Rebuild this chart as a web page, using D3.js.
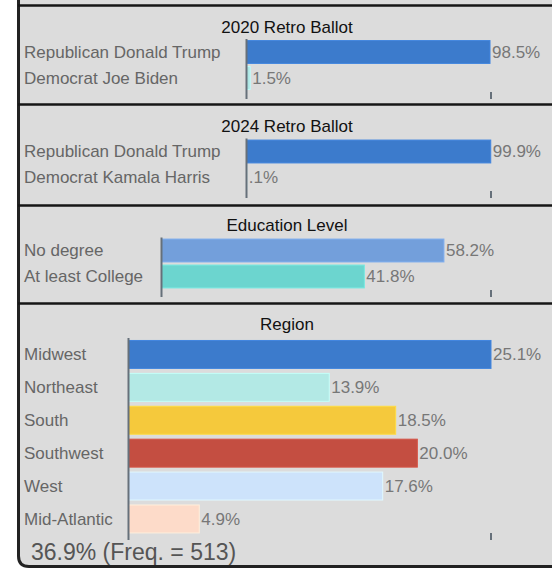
<!DOCTYPE html>
<html><head><meta charset="utf-8">
<script src="https://cdn.jsdelivr.net/npm/d3@7/dist/d3.min.js"></script>
<style>
html,body{margin:0;padding:0;background:#fff;}
svg{display:block;font-family:"Liberation Sans",Arial,sans-serif;}
</style></head>
<body>
<svg id="chart" width="552" height="570"></svg>
<script>
// ---- data ----
const panelTitles = ["2020 Retro Ballot", "2024 Retro Ballot", "Education Level", "Region"];
const ballot2020Cats = ["Republican Donald Trump", "Democrat Joe Biden"];
const ballot2020Vals = [98.5, 1.5];
const ballot2020Labels = ["98.5%", "1.5%"];
const ballot2024Cats = ["Republican Donald Trump", "Democrat Kamala Harris"];
const ballot2024Vals = [99.9, 0.1];
const ballot2024Labels = ["99.9%", ".1%"];
const educationCats = ["No degree", "At least College"];
const educationVals = [58.2, 41.8];
const educationLabels = ["58.2%", "41.8%"];
const regionCats = ["Midwest", "Northeast", "South", "Southwest", "West", "Mid-Atlantic"];
const regionVals = [25.1, 13.9, 18.5, 20.0, 17.6, 4.9];
const regionLabels = ["25.1%", "13.9%", "18.5%", "20.0%", "17.6%", "4.9%"];
const axisMax = [98.9, 100, 67.9, 25.1];
const footerText = "36.9% (Freq. = 513)";

// ---- styles / layout ----
const ballotColors = ["#3c7bcc", "#aee6e4"];
const eduColors = ["#739fdb", "#6cd5cf"];
const regionColors = ["#3c7bcc", "#b3e9e5", "#f5c93c", "#c44e41", "#cde3fb", "#fddbc9"];

const panels = [
  {title: panelTitles[0], cats: ballot2020Cats, vals: ballot2020Vals, labels: ballot2020Labels, max: axisMax[0], colors: ballotColors,
   top: 5, titleY: 33, axisX: 246.5, bandTop: 39, step: 26, pad: 0.12, axisBottom: 99},
  {title: panelTitles[1], cats: ballot2024Cats, vals: ballot2024Vals, labels: ballot2024Labels, max: axisMax[1], colors: ballotColors,
   top: 104, titleY: 132, axisX: 246.5, bandTop: 138.5, step: 26, pad: 0.12, axisBottom: 198},
  {title: panelTitles[2], cats: educationCats, vals: educationVals, labels: educationLabels, max: axisMax[2], colors: eduColors,
   top: 205, titleY: 231, axisX: 161.5, bandTop: 237.5, step: 26, pad: 0.12, axisBottom: 297},
  {title: panelTitles[3], cats: regionCats, vals: regionVals, labels: regionLabels, max: axisMax[3], colors: regionColors,
   top: 303, titleY: 330, axisX: 128.5, bandTop: 338, step: 32.9, pad: 0.15, axisBottom: 540}
];
const rightEnd = 491;

const svg = d3.select("#chart");

// background frame
svg.append("path")
  .attr("d", "M18.5,-5 L18.5,556 Q18.5,566.5 29,566.5 L600,566.5 L600,-5 Z")
  .attr("fill", "#dcdcdc")
  .attr("stroke", "#222")
  .attr("stroke-width", 3);

panels.forEach((p) => {
  const g = svg.append("g");
  g.append("line")
    .attr("x1", 18).attr("x2", 552)
    .attr("y1", p.top + 0.5).attr("y2", p.top + 0.5)
    .attr("stroke", "#161616").attr("stroke-width", 2.5);

  const x = d3.scaleLinear().domain([0, p.max]).range([p.axisX, rightEnd]);
  const y = d3.scaleBand().domain(p.cats)
    .range([p.bandTop, p.bandTop + p.step * p.cats.length])
    .paddingInner(p.pad).paddingOuter(p.pad / 2);

  g.append("text")
    .attr("x", 287).attr("y", p.titleY)
    .attr("text-anchor", "middle")
    .attr("font-size", 17).attr("fill", "#111")
    .text(p.title);

  g.selectAll("rect.bar").data(p.cats).join("rect")
    .attr("class", "bar")
    .attr("x", x(0))
    .attr("y", d => y(d))
    .attr("width", (d, i) => Math.max(0, x(p.vals[i]) - x(0)))
    .attr("height", y.bandwidth())
    .attr("fill", (d, i) => p.colors[i])
    .attr("stroke", (d, i) => d3.color(p.colors[i]).brighter(0.25))
    .attr("stroke-width", 1);

  g.selectAll("text.cat").data(p.cats).join("text")
    .attr("class", "cat")
    .attr("x", 24)
    .attr("y", d => y(d) + y.bandwidth() / 2)
    .attr("dy", "0.34em")
    .attr("font-size", 17).attr("fill", "#666")
    .text(d => d);

  g.selectAll("text.val").data(p.cats).join("text")
    .attr("class", "val")
    .attr("x", (d, i) => x(p.vals[i]) + 2)
    .attr("y", d => y(d) + y.bandwidth() / 2)
    .attr("dy", "0.34em")
    .attr("font-size", 17).attr("fill", "#777")
    .text((d, i) => p.labels[i]);

  g.append("line")
    .attr("x1", p.axisX).attr("x2", p.axisX)
    .attr("y1", p.bandTop).attr("y2", p.axisBottom)
    .attr("stroke", "#66707a").attr("stroke-width", 2);

  g.append("line")
    .attr("x1", x(p.max)).attr("x2", x(p.max))
    .attr("y1", p.axisBottom - 7).attr("y2", p.axisBottom)
    .attr("stroke", "#66707a").attr("stroke-width", 2);
});

svg.append("text")
  .attr("x", 31).attr("y", 560)
  .attr("font-size", 23).attr("fill", "#555")
  .text(footerText);
</script>
</body></html>
